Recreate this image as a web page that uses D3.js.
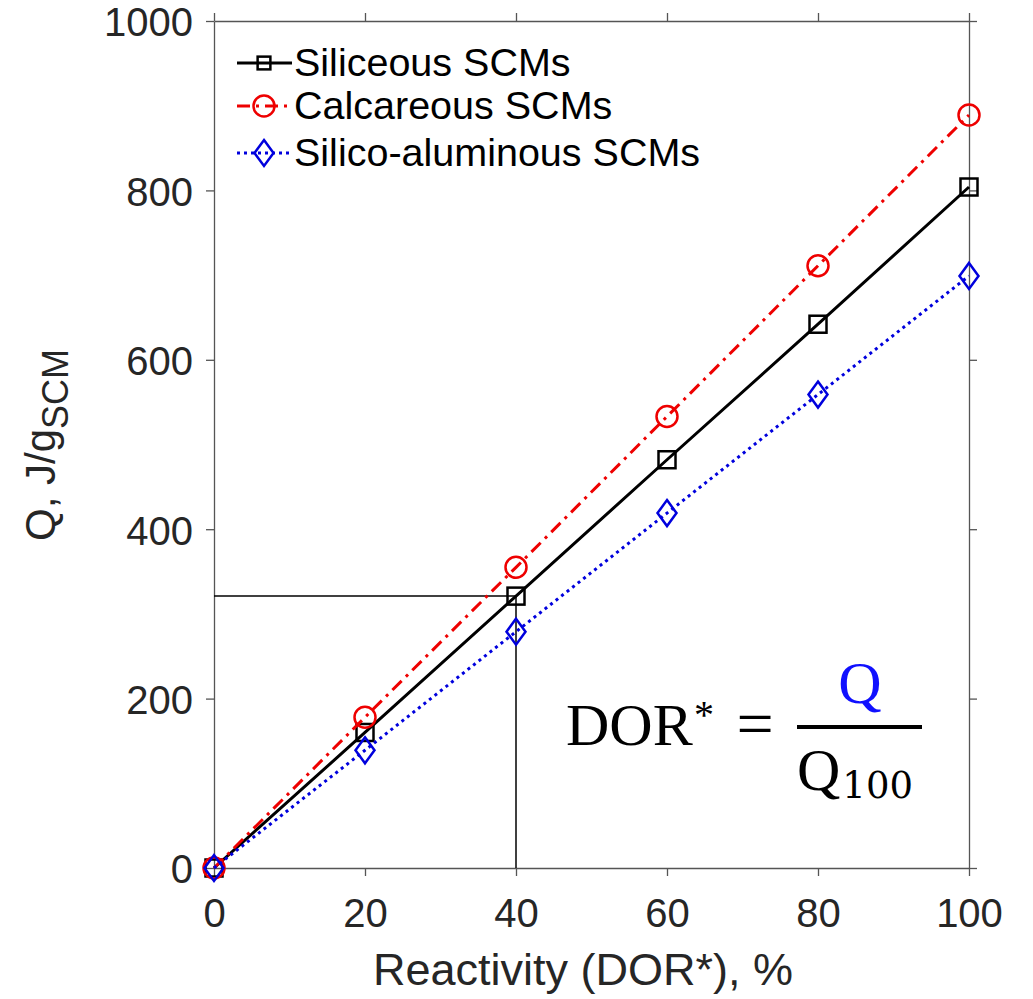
<!DOCTYPE html>
<meta charset="utf-8">
<style>
  body { margin: 0; background: #fff; }
  text { font-family: "Liberation Sans", Arial, sans-serif; }
</style>
<svg width="1033" height="999"></svg>
<script src="https://cdn.jsdelivr.net/npm/d3@7"></script>
<script>

var reactivity = [0, 20, 40, 60, 80, 100];
var siliceous = [0, 160, 321, 482, 642, 804];
var calcareous = [0, 178, 355, 533, 711, 889];
var silicoAluminous = [0, 139, 279, 419, 559, 699];
var xTicks = [0, 20, 40, 60, 80, 100];
var yTicks = [0, 200, 400, 600, 800, 1000];
var seriesNames = ["Siliceous SCMs", "Calcareous SCMs", "Silico-aluminous SCMs"];

var svg = d3.select("svg");

var x = d3.scaleLinear().domain([0, 100]).range([214, 969]);
var y = d3.scaleLinear().domain([0, 1000]).range([868, 21]);

var series = [
  {name: seriesNames[0], values: siliceous, color: "#000000", dash: null, marker: "square"},
  {name: seriesNames[1], values: calcareous, color: "#ee0000", dash: "13,6,3,6", marker: "circle"},
  {name: seriesNames[2], values: silicoAluminous, color: "#0000dd", dash: "3,4", marker: "diamond"}
];

// axes, ticks pointing out on all four sides
var axisColor = "#555";
function styleAxis(g) {
  g.select(".domain").attr("stroke", axisColor).attr("stroke-width", 1.3);
  g.selectAll(".tick line").attr("stroke", axisColor).attr("stroke-width", 1.3);
  g.selectAll(".tick text").attr("fill", "#262626").style("font-size", "40px")
    .style("font-family", "'Liberation Sans', Arial, sans-serif");
}

svg.append("g").attr("transform", "translate(0," + y(0) + ")")
  .call(d3.axisBottom(x).tickValues(xTicks).tickSize(8).tickPadding(23).tickSizeOuter(0))
  .call(styleAxis);
svg.append("g").attr("transform", "translate(0," + y(1000) + ")")
  .call(d3.axisTop(x).tickValues(xTicks).tickSize(8).tickFormat("").tickSizeOuter(0))
  .call(styleAxis);
svg.append("g").attr("transform", "translate(" + x(0) + ",0)")
  .call(d3.axisLeft(y).tickValues(yTicks).tickSize(8).tickPadding(13).tickFormat(d3.format("d")).tickSizeOuter(0))
  .call(styleAxis)
  .selectAll(".tick text").attr("dy", "0.37em");
svg.append("g").attr("transform", "translate(" + x(100) + ",0)")
  .call(d3.axisRight(y).tickValues(yTicks).tickSize(8).tickFormat("").tickSizeOuter(0))
  .call(styleAxis);

// guide lines at 40 %
svg.append("line")
  .attr("x1", x(0)).attr("x2", x(reactivity[2]))
  .attr("y1", y(siliceous[2])).attr("y2", y(siliceous[2]))
  .attr("stroke", "#000").attr("stroke-width", 1.5);
svg.append("line")
  .attr("x1", x(reactivity[2])).attr("x2", x(reactivity[2]))
  .attr("y1", y(siliceous[2])).attr("y2", y(0))
  .attr("stroke", "#000").attr("stroke-width", 1.5);

function drawMarker(g, type, cx, cy, color, k) {
  k = k || 1;
  if (type == "square") {
    var h = 8.5 * k;
    g.append("rect").attr("x", cx - h).attr("y", cy - h).attr("width", 2 * h).attr("height", 2 * h)
      .attr("fill", "none").attr("stroke", color).attr("stroke-width", 2.5);
  } else if (type == "circle") {
    g.append("circle").attr("cx", cx).attr("cy", cy).attr("r", 10.5)
      .attr("fill", "none").attr("stroke", color).attr("stroke-width", 2.5);
  } else {
    g.append("path")
      .attr("d", "M" + cx + "," + (cy - 13) + "L" + (cx + 9.5) + "," + cy + "L" + cx + "," + (cy + 13) + "L" + (cx - 9.5) + "," + cy + "Z")
      .attr("fill", "none").attr("stroke", color).attr("stroke-width", 2.5);
  }
}

var line = d3.line().x(d => x(d[0])).y(d => y(d[1]));

series.forEach(function(s) {
  var pts = reactivity.map((r, i) => [r, s.values[i]]);
  svg.append("path")
    .attr("d", line(pts))
    .attr("fill", "none")
    .attr("stroke", s.color)
    .attr("stroke-width", 3)
    .attr("stroke-dasharray", s.dash);
  var g = svg.append("g");
  pts.forEach(p => drawMarker(g, s.marker, x(p[0]), y(p[1]), s.color));
});

// legend
var legendY = [63, 106, 153];
series.forEach(function(s, i) {
  var ly = legendY[i];
  svg.append("line").attr("x1", 237).attr("x2", 292).attr("y1", ly).attr("y2", ly)
    .attr("stroke", s.color).attr("stroke-width", 3).attr("stroke-dasharray", s.dash);
  var g = svg.append("g");
  drawMarker(g, s.marker, 264, ly, s.color, 0.75);
  svg.append("text").attr("x", 294).attr("y", ly + 13)
    .style("font-size", "39.5px").attr("fill", "#000").text(s.name);
});

// axis titles
svg.append("text").attr("x", 583).attr("y", 985)
  .attr("text-anchor", "middle").attr("fill", "#262626")
  .style("font-size", "45px").text("Reactivity (DOR*), %");

var yl = svg.append("text").attr("transform", "translate(55,445) rotate(-90)")
  .attr("text-anchor", "middle").attr("fill", "#262626").style("font-size", "42px");
yl.append("tspan").text("Q, J/g");
yl.append("tspan").attr("dy", 13).style("font-size", "36px").text("SCM");

// formula
var serif = "'Liberation Serif', 'DejaVu Serif', serif";
svg.append("text").attr("x", 566).attr("y", 745).style("font-family", serif)
  .style("font-size", "60px").attr("fill", "#000").text("DOR");
svg.append("text").attr("x", 694).attr("y", 728).style("font-family", serif)
  .style("font-size", "40px").attr("fill", "#000").text("*");
svg.append("text").attr("x", 755).attr("y", 746).attr("text-anchor", "middle").style("font-family", serif)
  .style("font-size", "66px").attr("fill", "#000").text("=");
svg.append("line").attr("x1", 797).attr("x2", 922).attr("y1", 727).attr("y2", 727)
  .attr("stroke", "#000").attr("stroke-width", 4);
svg.append("text").attr("x", 860).attr("y", 703).attr("text-anchor", "middle").style("font-family", serif)
  .style("font-size", "60px").attr("fill", "#1010ff").text("Q");
var q100 = svg.append("text").attr("x", 797).attr("y", 790).style("font-family", serif)
  .style("font-size", "60px").attr("fill", "#000");
q100.append("tspan").text("Q");
q100.append("tspan").attr("dy", 8).attr("dx", 2).style("font-size", "37px")
  .style("font-family", "'DejaVu Serif', serif").text("100");

</script>
